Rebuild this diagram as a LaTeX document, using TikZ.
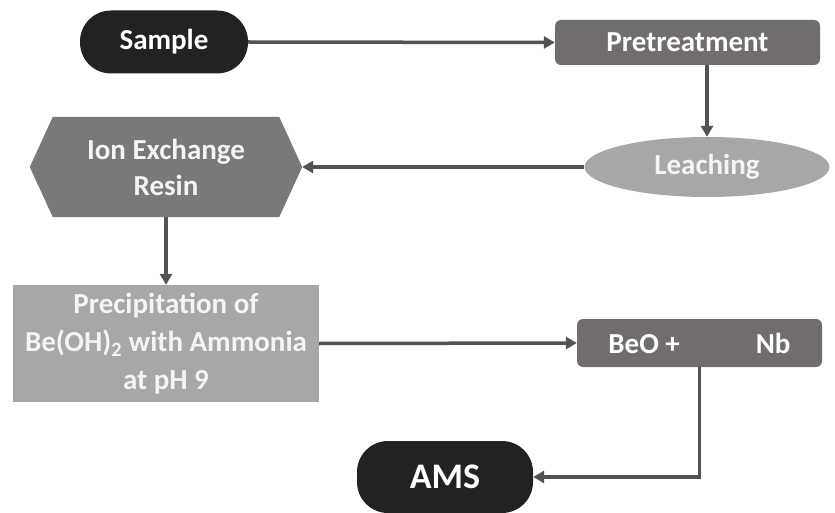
\documentclass[tikz,border=0pt]{standalone}
\usepackage{fontspec}
\setmainfont{Carlito}
\usetikzlibrary{arrows.meta,shapes.geometric,calc}
\definecolor{darkbox}{HTML}{222222}
\definecolor{midbox}{HTML}{716D6D}
\definecolor{hexbox}{HTML}{7A7878}
\definecolor{lightbox}{HTML}{A8A6A6}
\definecolor{arrowcol}{HTML}{525252}
\definecolor{softwhite}{HTML}{F4F4F4}
\begin{document}
\begin{tikzpicture}[x=1pt,y=-1pt,
  every node/.style={font=\bfseries, text=white, align=center, inner sep=0pt},
  pill/.style={fill=darkbox, rounded corners=31pt},
  graybox/.style={fill=midbox, rounded corners=6pt},
  lightrect/.style={fill=lightbox, text=softwhite},
  conn/.style={draw=arrowcol, line width=3.5pt, -{Triangle[width=12pt,length=11pt]}},
  txtA/.style={font=\fontsize{29}{36}\selectfont\bfseries}
]
\useasboundingbox (0,0) rectangle (835,513);
\fill[white] (0,0) rectangle (835,513);

\node[pill, minimum width=168pt, minimum height=63pt, txtA] (sample) at (164,42) {Sample};
\node[graybox, minimum width=265pt, minimum height=45pt, txtA] (pre) at (687.5,42.5) {Pretreatment};
\node[ellipse, fill=lightbox, text=softwhite, minimum width=245pt, minimum height=60pt, txtA] (leach) at (707,167) {Leaching};
\node[minimum width=272pt, minimum height=100pt, txtA] (ion) at (166,167) {};
\fill[hexbox] ($(ion.north west)+(23,0)$) -- ($(ion.north east)+(-23,0)$) -- (ion.east) -- ($(ion.south east)+(-23,0)$) -- ($(ion.south west)+(23,0)$) -- (ion.west) -- cycle;
\node[txtA, text=softwhite] at (ion.center) {Ion Exchange\\Resin};
\node[lightrect, minimum width=306pt, minimum height=117pt, font=\fontsize{29}{38}\selectfont\bfseries] (prec) at (166,343.5) {Precipitation of\\Be(OH)\textsubscript{2} with Ammonia\\at pH 9};
\node[graybox, minimum width=245pt, minimum height=48pt, txtA] (beo) at (699.5,343) {BeO +\hspace{76pt}Nb};
\node[pill, minimum width=176pt, minimum height=72pt, font=\fontsize{36}{40}\selectfont\bfseries] (ams) at (445,477) {AMS};

\draw[conn] (sample.east) -- (pre.west);
\draw[conn] (pre.south -| leach.north) -- (leach.north);
\draw[conn] (leach.west) -- (ion.east);
\draw[conn] (ion.south) -- (prec.north);
\draw[conn] (prec.east) -- (beo.west);
\coordinate (bend) at (beo.south |- ams.east);
\draw[conn] (beo.south) -- (bend) -- (ams.east);
\end{tikzpicture}
\end{document}
